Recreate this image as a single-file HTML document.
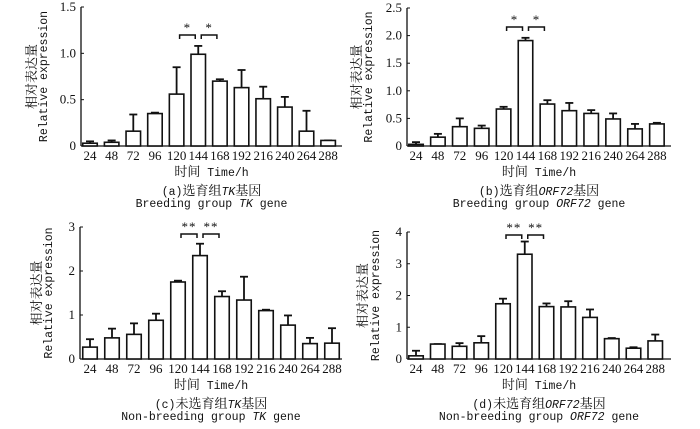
<!DOCTYPE html>
<html><head><meta charset="utf-8"><style>
body{margin:0;background:#fff;width:700px;height:424px;overflow:hidden}
svg text{fill:#111}
.t{font-family:"Liberation Serif","Noto Serif CJK SC",serif;font-size:13px}
.m{font-family:"Liberation Mono","Noto Sans CJK SC",monospace;font-size:11.5px}
</style></head><body>
<svg id="s" width="700" height="424"></svg>
<script>
const categories=["24","48","72","96","120","144","168","192","216","240","264","288"];
const valsA=[0.03,0.04,0.16,0.35,0.56,0.99,0.70,0.63,0.51,0.42,0.16,0.06];
const errA=[0.05,0.06,0.34,0.36,0.85,1.08,0.72,0.82,0.64,0.53,0.38,0.06];
const valsB=[0.03,0.16,0.35,0.32,0.67,1.91,0.76,0.64,0.59,0.49,0.31,0.40];
const errB=[0.07,0.22,0.50,0.37,0.71,1.96,0.83,0.78,0.65,0.59,0.40,0.42];
const valsC=[0.27,0.48,0.56,0.88,1.75,2.35,1.42,1.34,1.10,0.77,0.35,0.36];
const errC=[0.45,0.69,0.81,1.03,1.78,2.62,1.54,1.87,1.12,0.99,0.48,0.70];
const valsD=[0.10,0.47,0.40,0.51,1.74,3.30,1.65,1.64,1.31,0.64,0.34,0.57];
const errD=[0.26,0.47,0.50,0.72,1.90,3.70,1.75,1.82,1.56,0.66,0.37,0.77];
const ticksA=["0","0.5","1.0","1.5"],tickValsA=[0,0.5,1,1.5];
const ticksB=["0","0.5","1.0","1.5","2.0","2.5"],tickValsB=[0,0.5,1,1.5,2,2.5];
const ticksC=["0","1","2","3"],tickValsC=[0,1,2,3];
const ticksD=["0","1","2","3","4"],tickValsD=[0,1,2,3,4];
const S=document.getElementById('s'),NS="http://www.w3.org/2000/svg";
function el(t,a,p){const e=document.createElementNS(NS,t);for(const k in a)e.setAttribute(k,a[k]);(p||S).appendChild(e);return e;}
function panel(cfg){
 const g=el('g',{});
 
 
 const {ax,x0,step,ytop,ybot,ymax,xend}=cfg;
 const Y=v=>ybot-(v/ymax)*(ybot-ytop);
 const X=i=>x0+i*step;
 const ya=el('line',{x1:ax,y1:ytop,x2:ax,y2:ybot,stroke:'#111','stroke-width':1.3},g);
 
 const xa=el('line',{x1:ax,y1:ybot,x2:xend,y2:ybot,stroke:'#111','stroke-width':1.3},g);
 
 cfg.tv.forEach((v,i)=>{
  el('line',{x1:ax,y1:Y(v),x2:ax+3,y2:Y(v),stroke:'#111','stroke-width':1},g);
  const t=el('text',{x:ax-5,y:Y(v)+4,'text-anchor':'end',class:'t'},g);t.textContent=cfg.tl[i];
  
 });
 categories.forEach((c,i)=>{
  const cx=X(i),bw=14.5;
  const top=Y(cfg.vals[i]),et=Y(cfg.err[i]);
  const ln=el('line',{x1:cx,y1:top,x2:cx,y2:et,stroke:'#111','stroke-width':1.8},g);
  
  el('line',{x1:cx-4,y1:et,x2:cx+4,y2:et,stroke:'#111','stroke-width':1.8},g);
  const r=el('rect',{x:cx-bw/2,y:top,width:bw,height:Math.max(ybot-top,0.5),fill:'#fff',stroke:'#111','stroke-width':1.6},g);
  
  const t=el('text',{x:cx,y:ybot+14,'text-anchor':'middle',class:'t'},g);t.textContent=c;
  
 });
 const by=cfg.by;
 [[4,5],[5,6]].forEach(([a,b])=>{
  const xa1=X(a)+3,xb=X(b)-3;
  el('path',{d:`M${xa1} ${by+4}V${by}H${xb}V${by+4}`,fill:'none',stroke:'#111','stroke-width':1.5},g);
  const t=el('text',{x:(xa1+xb)/2,y:by-3,'text-anchor':'middle',class:'t','font-size':'18px','letter-spacing':'1'},g);t.textContent=cfg.star;
  
 });
 const cy=(ytop+ybot)/2;
 const y1=el('text',{x:0,y:0,'text-anchor':'middle',class:'t',transform:`translate(${cfg.yl1},${cy}) rotate(-90)`,'font-family':'"Noto Serif CJK SC",serif'},g);y1.textContent='相对表达量';
 
 const y2=el('text',{x:0,y:0,'text-anchor':'middle',class:'m',transform:`translate(${cfg.yl2},${cy}) rotate(-90)`},g);y2.textContent='Relative expression';
 
 const mid=(ax+xend)/2;
 const xt=el('text',{x:mid,y:ybot+30,'text-anchor':'middle',class:'m','font-size':'12.5px'},g);
 xt.innerHTML='<tspan font-family="Noto Serif CJK SC,serif" font-size="13">时间</tspan> Time/h';
 
 const c1=el('text',{x:mid,y:ybot+49,'text-anchor':'middle',class:'m','font-size':'12.5px'},g);c1.innerHTML=cfg.cap1;
 
 const c2=el('text',{x:mid,y:ybot+61,'text-anchor':'middle',class:'m','font-size':'12px'},g);c2.innerHTML=cfg.cap2;
 
}
const cn='font-family="Noto Serif CJK SC,serif" font-size="13"';
panel({name:'panel-a',vals:valsA,err:errA,tl:ticksA,tv:tickValsA,ax:81,x0:90,step:21.65,ytop:7,ybot:146,ymax:1.5,xend:342,by:35,star:'*',yl1:36,yl2:47,
 cap1:`(a)<tspan ${cn}>选育组</tspan><tspan font-style="italic">TK</tspan><tspan ${cn}>基因</tspan>`,cap2:'Breeding group <tspan font-style="italic">TK</tspan> gene'});
panel({name:'panel-b',vals:valsB,err:errB,tl:ticksB,tv:tickValsB,ax:407,x0:416,step:21.9,ytop:8,ybot:146,ymax:2.5,xend:671,by:27,star:'*',yl1:361,yl2:372,
 cap1:`(b)<tspan ${cn}>选育组</tspan><tspan font-style="italic">ORF72</tspan><tspan ${cn}>基因</tspan>`,cap2:'Breeding group <tspan font-style="italic">ORF72</tspan> gene'});
panel({name:'panel-c',vals:valsC,err:errC,tl:ticksC,tv:tickValsC,ax:80,x0:90,step:22,ytop:227,ybot:359,ymax:3,xend:342,by:234,star:'**',yl1:41,yl2:52,
 cap1:`(c)<tspan ${cn}>未选育组</tspan><tspan font-style="italic">TK</tspan><tspan ${cn}>基因</tspan>`,cap2:'Non-breeding group <tspan font-style="italic">TK</tspan> gene'});
panel({name:'panel-d',vals:valsD,err:errD,tl:ticksD,tv:tickValsD,ax:407,x0:416,step:21.75,ytop:232,ybot:359,ymax:4,xend:671,by:235,star:'**',yl1:367,yl2:379,
 cap1:`(d)<tspan ${cn}>未选育组</tspan><tspan font-style="italic">ORF72</tspan><tspan ${cn}>基因</tspan>`,cap2:'Non-breeding group <tspan font-style="italic">ORF72</tspan> gene'});
</script>
</body></html>
